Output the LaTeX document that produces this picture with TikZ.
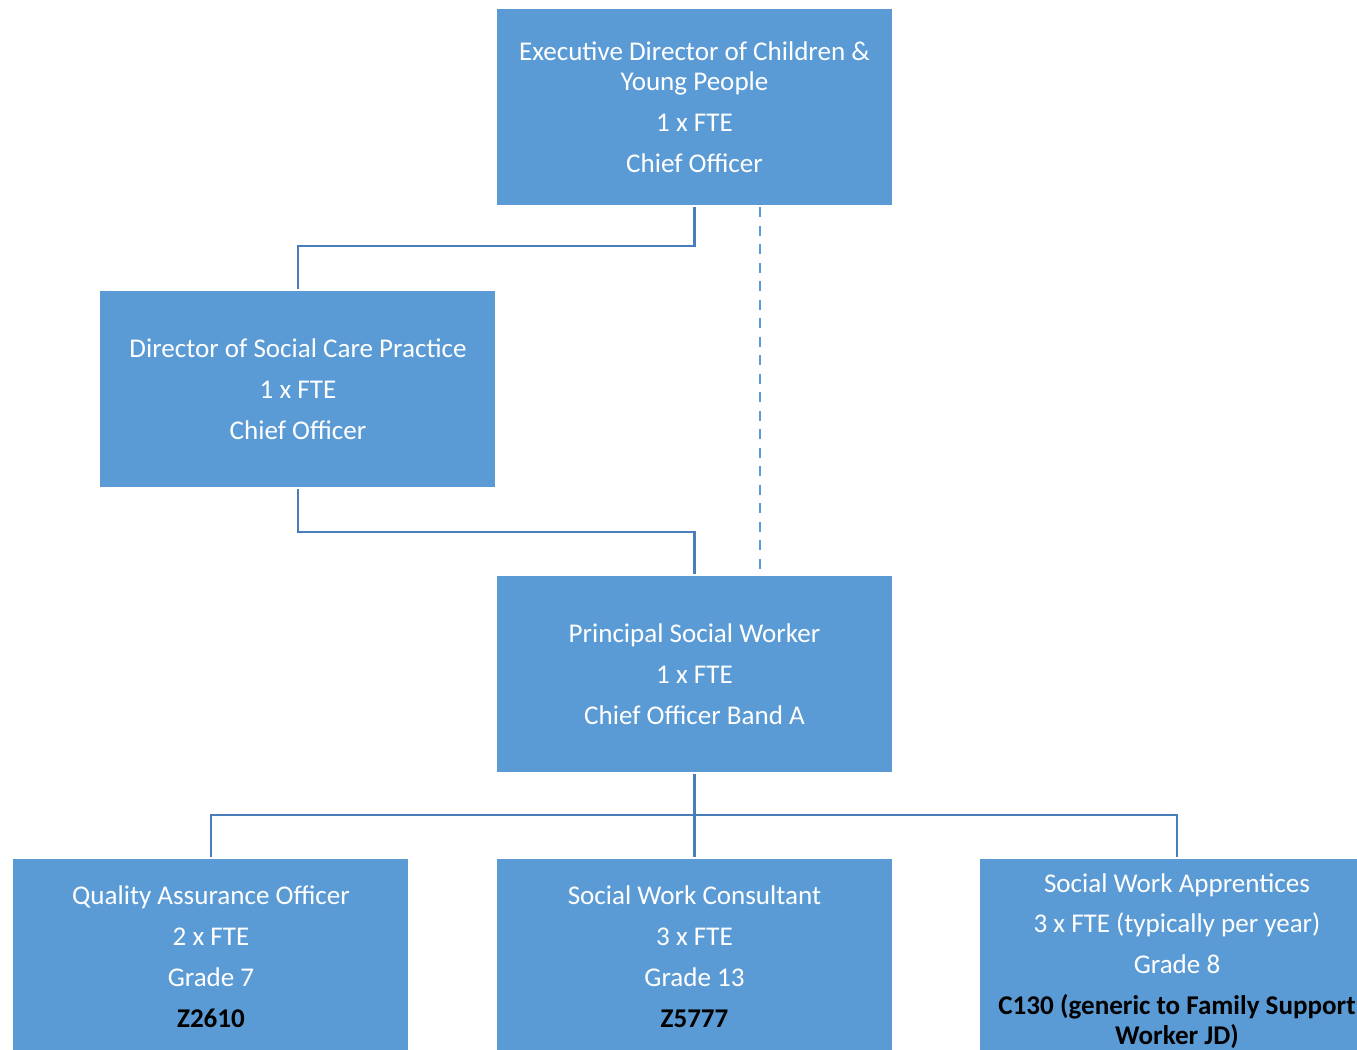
\documentclass[tikz,border=0pt]{standalone}
\usepackage{fontspec}
\setmainfont{Carlito}
\usepackage{tikz}
\definecolor{boxblue}{HTML}{5B9BD5}
\definecolor{lineblue}{HTML}{4A7EBB}

\begin{document}
\begin{tikzpicture}[node distance=11.34cm]
	\tikzstyle{role} = [rectangle, fill=boxblue, text=white, align=center, minimum height=3.92cm, minimum width=7.9cm, outer sep=0.04cm, font=\fontsize{15.4}{17}\selectfont];
	\tikzstyle{link} = [line width=1.5pt, draw=lineblue];
	\useasboundingbox (-13.89,2.14) rectangle (13.25,-18.84);
	\node (exec) [role] {Executive Director of Children \&\\Young People\\[6.3pt]1 x FTE\\[6.3pt]Chief Officer};
	\node (dir) [role, below of=exec, node distance=5.64cm, xshift=-7.93cm] {Director of Social Care Practice\\[6.3pt]1 x FTE\\[6.3pt]Chief Officer};
	\node (psw) [role, below of=exec] {Principal Social Worker\\[6.3pt]1 x FTE\\[6.3pt]Chief Officer Band A};
	\node (qa) [role, below of=psw, node distance=5.66cm, xshift=-9.67cm] {Quality Assurance Officer\\[6.3pt]2 x FTE\\[6.3pt]Grade 7\\[6.3pt]\textcolor{black}{\textbf{Z2610}}};
	\node (swc) [role, below of=psw, node distance=5.66cm] {Social Work Consultant\\[6.3pt]3 x FTE\\[6.3pt]Grade 13\\[6.3pt]\textcolor{black}{\textbf{Z5777}}};
	\node (swa) [role, below of=psw, node distance=5.66cm, xshift=9.65cm, yshift=-0.08cm, minimum height=4.08cm] {Social Work Apprentices\\[6.3pt]3 x FTE (typically per year)\\[6.3pt]Grade 8\\[6.3pt]\textcolor{black}{\textbf{C130 (generic to Family Support}}\\\textcolor{black}{\textbf{Worker JD)}}};
	\draw [link] (exec.south) -- ++(0,-0.78) -| (dir.north);
	\draw [link] (dir.south) -- ++(0,-0.86) -| (psw.north);
	\draw [line width=1.5pt, draw=boxblue, dash pattern=on 0.2cm off 0.17cm] ([xshift=1.31cm]exec.south) -- ([xshift=1.31cm]psw.north);
	\draw [link] (psw.south) -- (swc.north);
	\draw [link] (qa.north) -- ++(0,0.84) -| (swa.north);
\end{tikzpicture}
\end{document}
